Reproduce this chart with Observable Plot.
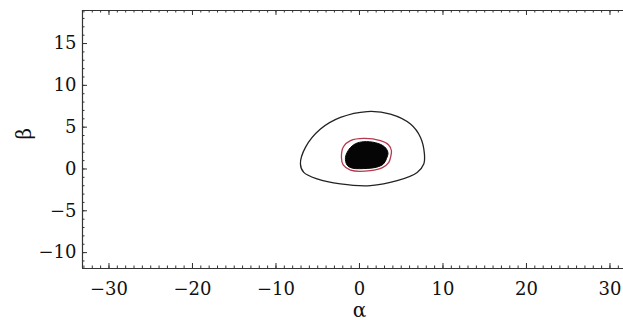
<!DOCTYPE html>
<html>
<head>
<meta charset="utf-8">
<script src="https://cdn.jsdelivr.net/npm/d3@7"></script>
<script src="https://cdn.jsdelivr.net/npm/@observablehq/plot@0.6"></script>
<style>
  html, body { margin: 0; padding: 0; background: #fff; }
  #chart svg, #chart svg text { font-family: "DejaVu Serif", serif !important; }
</style>
</head>
<body>
<div id="chart"></div>
<script>
// Axis domains and tick labels
const xDomain = [-33.17, 31.62];
const yDomain = [-11.9, 18.95];
const xMajor = [-30, -20, -10, 0, 10, 20, 30];
const yMajor = [-10, -5, 0, 5, 10, 15];
const xMinor = d3.range(-33, 32, 1);
const yMinor = d3.range(-11, 19, 1);

// Outer (black) contour
const outerX = [-7.07, -6.47, -4.67, -2.28, 0.92, 3.71, 6.11, 7.31, 7.78, 7.70, 6.91, 4.51, 1.32, -2.28, -5.07, -6.67];
const outerY = [0.60, 2.58, 4.77, 6.16, 6.87, 6.56, 5.37, 3.77, 1.79, 0.60, -0.41, -1.40, -1.99, -1.79, -1.19, -0.41];

// Red contour
const redX = [-2.16, -1.92, -1.08, 0.51, 2.51, 3.47, 3.83, 3.71, 3.51, 2.75, 1.32, -1.08, -1.95];
const redY = [1.38, 2.66, 3.38, 3.65, 3.38, 2.90, 2.18, 1.35, 0.79, 0.16, -0.20, -0.14, 0.48];

// Filled black region
const blobX = [-1.68, -1.20, -0.48, 0.51, 1.92, 2.99, 3.41, 3.23, 2.87, 2.04, 0.92, -0.84, -1.47];
const blobY = [1.38, 2.42, 3.02, 3.26, 3.14, 2.66, 1.95, 1.23, 0.60, 0.21, 0.07, 0.10, 0.45];

const toPts = (xs, ys) => xs.map((x, i) => ({x, y: ys[i]}));
const outer = toPts(outerX, outerY);
const red = toPts(redX, redY);
const blob = toPts(blobX, blobY);

const W = 623, H = 320, mL = 82, mR = 0, mT = 10, mB = 52;
const fw = W - mL - mR, fh = H - mT - mB;
const maj = 5, mnr = 2.5;
const axisColor = "#333";
const serif = "DejaVu Serif";

const chart = Plot.plot({
  width: W, height: H,
  marginLeft: mL, marginRight: mR, marginTop: mT, marginBottom: mB,
  x: {domain: xDomain},
  y: {domain: yDomain},
  style: {fontFamily: serif, fontSize: "18px", background: "#fff", color: "#111"},
  marks: [
    // frame (top, bottom, left)
    Plot.ruleY([yDomain[0]], {stroke: axisColor, strokeWidth: 1.2}),
    Plot.ruleY([yDomain[1]], {stroke: axisColor, strokeWidth: 1.2}),
    Plot.ruleX([xDomain[0]], {stroke: axisColor, strokeWidth: 1.2}),
    // inward ticks bottom
    Plot.ruleX(xMajor, {insetTop: fh - maj, stroke: axisColor}),
    Plot.ruleX(xMinor, {insetTop: fh - mnr, stroke: axisColor}),
    // inward ticks top
    Plot.ruleX(xMajor, {insetBottom: fh - maj, stroke: axisColor}),
    Plot.ruleX(xMinor, {insetBottom: fh - mnr, stroke: axisColor}),
    // inward ticks left
    Plot.ruleY(yMajor, {insetRight: fw - maj, stroke: axisColor}),
    Plot.ruleY(yMinor, {insetRight: fw - mnr, stroke: axisColor}),
    // tick labels
    Plot.axisX({ticks: xMajor, tickSize: 0, tickPadding: 14, label: null, fontSize: 18, fontFamily: serif}),
    Plot.axisY({ticks: yMajor, tickSize: 0, tickPadding: 6, label: null, fontSize: 18, fontFamily: serif}),
    // axis titles
    Plot.text(["α"], {x: [0], frameAnchor: "bottom", dy: 48, text: d => d, fontSize: 20, lineAnchor: "bottom", fontFamily: serif}),
    Plot.text(["β"], {y: [(yDomain[0] + yDomain[1]) / 2], frameAnchor: "left", dx: -58, rotate: -90, text: d => d, fontSize: 20, fontFamily: serif}),
    // contours
    Plot.line(outer, {x: "x", y: "y", curve: "catmull-rom-closed", stroke: "#222", strokeWidth: 1.3}),
    Plot.line(red, {x: "x", y: "y", curve: "catmull-rom-closed", stroke: "#b5394e", strokeWidth: 1.3}),
    Plot.line(blob, {x: "x", y: "y", curve: "catmull-rom-closed", fill: "#050505", stroke: "#050505", strokeWidth: 1})
  ]
});
document.getElementById("chart").appendChild(chart);
</script>
</body>
</html>
